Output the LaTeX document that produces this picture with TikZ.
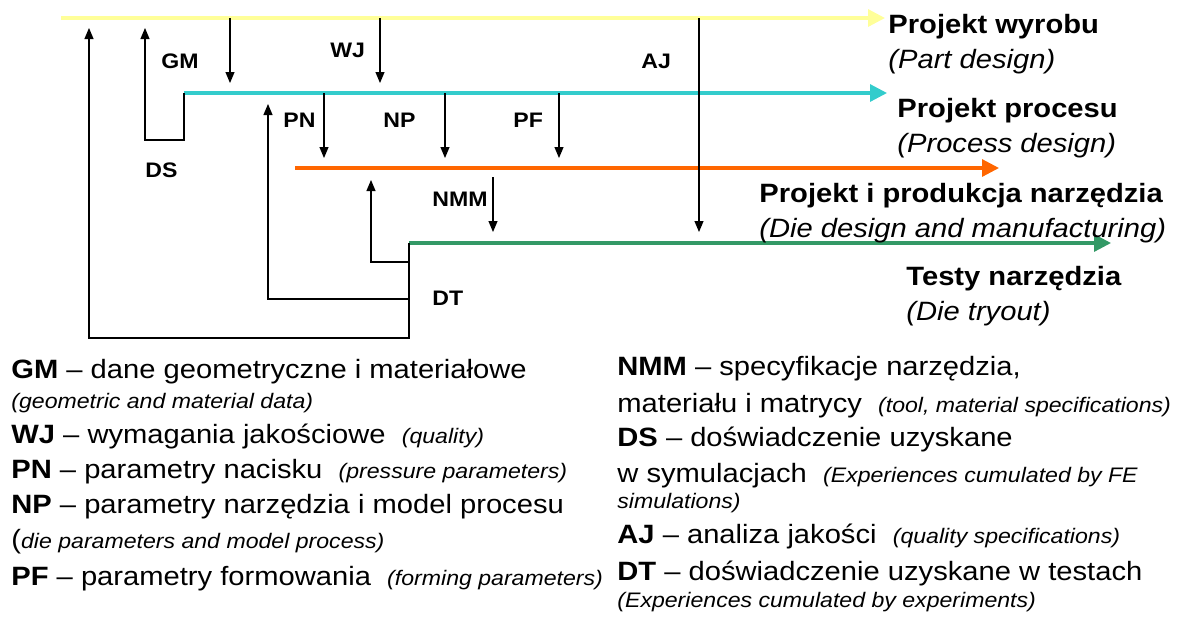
\documentclass[tikz,border=0pt]{standalone}
\usepackage{fontspec}
\setmainfont{Liberation Sans}[FakeStretch=1.1]
\usetikzlibrary{arrows.meta, positioning}

\definecolor{partyellow}{HTML}{FFFF99}
\definecolor{proccyan}{HTML}{33CCCC}
\definecolor{dieorange}{HTML}{FF6600}
\definecolor{trygreen}{HTML}{339966}

\newcommand{\bigtxt}{\fontsize{13.25}{16}\selectfont}
\newcommand{\smalltxt}{\fontsize{10.5}{12}\selectfont\itshape}

\begin{document}
\begin{tikzpicture}[
    x=0.5pt, y=-0.5pt,
    phase/.style={line width=1.6pt, -{Triangle[length=8.5pt, width=8.5pt]}},
    flow/.style={line width=0.55pt, -{Triangle[length=5.5pt, width=4.5pt]}},
    wire/.style={line width=0.55pt},
    tag/.style={anchor=base west, inner sep=0pt, font=\bfseries\fontsize{10.5}{12}\selectfont},
    title/.style={anchor=base west, inner sep=0pt, font=\bfseries\bigtxt},
    subtitle/.style={anchor=base west, inner sep=0pt, font=\itshape\bigtxt},
    legend/.style={anchor=base west, inner sep=0pt, font=\bigtxt}
]
    \useasboundingbox (0,0) rectangle (1178,617);

    % ================= PHASE LINES =================
    \coordinate (Y0) at (61,18);   \coordinate (Y1) at (885,18);
    \coordinate (C0) at (184,93);  \coordinate (C1) at (887,93);
    \coordinate (O0) at (295,168); \coordinate (O1) at (999,168);
    \coordinate (G0) at (409,243); \coordinate (G1) at (1111,243);

    \draw[phase, partyellow] (Y0) -- (Y1);
    \draw[phase, proccyan] (C0) -- (C1);
    \draw[phase, dieorange] (O0) -- (O1);
    \draw[phase, trygreen] (G0) -- (G1);

    % ================= PHASE TITLES =================
    \node[title] (part) at (888,33) {Projekt wyrobu};
    \node[subtitle] (part_en) at (888,68) {(Part design)};
    \node[title] (proc) at (897,117) {Projekt procesu};
    \node[subtitle] (proc_en) at (897,152) {(Process design)};
    \node[title] (die) at (759,202) {Projekt i produkcja narzędzia};
    \node[subtitle] (die_en) at (759,237) {(Die design and manufacturing)};
    \node[title] (tryout) at (906,285) {Testy narzędzia};
    \node[subtitle] (tryout_en) at (906,320) {(Die tryout)};

    % ================= INFORMATION FLOWS =================
    % Part design -> Process design
    \coordinate (gm_s) at (230,18);  \coordinate (gm_e) at (230,83);
    \coordinate (wj_s) at (380,18);  \coordinate (wj_e) at (380,83);
    \draw[flow] (gm_s) -- (gm_e);
    \draw[flow] (wj_s) -- (wj_e);

    % Part design -> Die tryout
    \coordinate (aj_s) at (699,18);  \coordinate (aj_e) at (699,232);
    \draw[flow] (aj_s) -- (aj_e);

    % Process design -> Die design
    \coordinate (pn_s) at (324,93);  \coordinate (pn_e) at (324,158);
    \coordinate (np_s) at (445,93);  \coordinate (np_e) at (445,158);
    \coordinate (pf_s) at (559,93);  \coordinate (pf_e) at (559,158);
    \draw[flow] (pn_s) -- (pn_e);
    \draw[flow] (np_s) -- (np_e);
    \draw[flow] (pf_s) -- (pf_e);

    % Die design -> Die tryout
    \coordinate (nmm_s) at (493,177); \coordinate (nmm_e) at (493,232);
    \draw[flow] (nmm_s) -- (nmm_e);

    % Feedback loops
    \coordinate (ds_e) at (145,28);
    \coordinate (dt_e1) at (89,28);
    \coordinate (dt_e2) at (268,104);
    \coordinate (dt_e3) at (371,180);
    \draw[flow] (C0) -- ++(0,47) -| (ds_e);
    \draw[flow] (G0) -- ++(0,95) -| (dt_e1);
    \draw[flow] (G0) -- ++(0,56) -| (dt_e2);
    \draw[flow] (G0) -- ++(0,19) -| (dt_e3);

    % ================= FLOW LABELS =================
    \node[tag] (GM) at (161,68) {GM};
    \node[tag] (WJ) at (330,57) {WJ};
    \node[tag] (AJ) at (641,68) {AJ};
    \node[tag] (PN) at (283,127) {PN};
    \node[tag] (NP) at (383,127) {NP};
    \node[tag] (PF) at (513,127) {PF};
    \node[tag] (DS) at (145,177) {DS};
    \node[tag] (NMM) at (432,206) {NMM};
    \node[tag] (DT) at (432,305) {DT};

    % ================= LEGEND =================
    % --- left column ---
    \node[legend] (l_gm) at (11,378) {\textbf{GM} – dane geometryczne i materiałowe};
    \node[legend] (l_gm_en) at (11,408) {\smalltxt (geometric and material data)};
    \node[legend] (l_wj) at (11,443) {\textbf{WJ} – wymagania jakościowe \ {\smalltxt (quality)}};
    \node[legend] (l_pn) at (11,478) {\textbf{PN} – parametry nacisku \ {\smalltxt (pressure parameters)}};
    \node[legend] (l_np) at (11,513) {\textbf{NP} – parametry narzędzia i model procesu};
    \node[legend] (l_np_en) at (11,548) {({\smalltxt die parameters and model process)}};
    \node[legend] (l_pf) at (11,585) {\textbf{PF} – parametry formowania \ {\smalltxt (forming parameters)}};

    % --- right column ---
    \node[legend] (l_nmm) at (617,375) {\textbf{NMM} – specyfikacje narzędzia,};
    \node[legend] (l_nmm2) at (617,412) {materiału i matrycy \ {\smalltxt (tool, material specifications)}};
    \node[legend] (l_ds) at (617,446) {\textbf{DS} – doświadczenie uzyskane};
    \node[legend] (l_ds2) at (617,482) {w symulacjach \ {\smalltxt (Experiences cumulated by FE}};
    \node[legend] (l_ds3) at (617,508) {\smalltxt simulations)};
    \node[legend] (l_aj) at (617,543) {\textbf{AJ} – analiza jakości \ {\smalltxt (quality specifications)}};
    \node[legend] (l_dt) at (617,580) {\textbf{DT} – doświadczenie uzyskane w testach};
    \node[legend] (l_dt_en) at (617,607) {\smalltxt (Experiences cumulated by experiments)};

\end{tikzpicture}
\end{document}
